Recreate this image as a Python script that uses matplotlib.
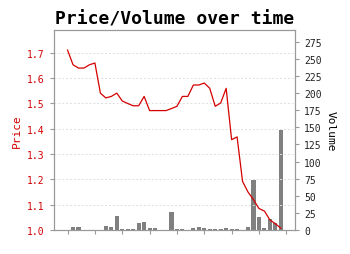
import matplotlib
matplotlib.use("Agg")
import matplotlib.pyplot as plt

# day index, closing price and traded volume
days = list(range(40))
price = [1.711, 1.653, 1.640, 1.640, 1.653, 1.660, 1.541, 1.522, 1.528, 1.541,
         1.510, 1.500, 1.491, 1.491, 1.528, 1.472, 1.472, 1.472, 1.472, 1.480,
         1.489, 1.528, 1.528, 1.573, 1.573, 1.581, 1.560, 1.489, 1.502, 1.560,
         1.357, 1.368, 1.192, 1.150, 1.120, 1.085, 1.075, 1.040, 1.025, 1.007]
volume = [0, 5, 5, 0, 0, 0, 0, 6, 4.5, 20,
          2, 1, 1.5, 10, 11, 2.5, 2.5, 0, 0, 26,
          1.5, 1.5, 0.5, 3, 4, 2.5, 1.5, 1.5, 1.5, 2.5,
          1.5, 1, 0, 4, 73, 19.5, 2.5, 15.5, 10, 146]
price_ticks = [1.0, 1.1, 1.2, 1.3, 1.4, 1.5, 1.6, 1.7]
volume_ticks = list(range(0, 276, 25))

plt.rcParams['font.family'] = 'DejaVu Sans Mono'
red = '#d40000'
edge = '#999999'

fig = plt.figure(figsize=(3.5, 2.55), dpi=100)
ax = fig.add_axes([0.154, 0.094, 0.689, 0.784])
ax2 = ax.twinx()

# volume bars on the right axis, drawn behind the price line
ax2.bar(days, volume, width=0.75, color='#808080', zorder=1)
ax2.set_ylim(0, 292)
ax2.set_yticks(volume_ticks)
ax2.tick_params(axis='y', labelsize=7, length=3, color=edge, labelcolor='#222222')
ax2.set_ylabel('Volume', fontsize=8, rotation=270, labelpad=10)

ax.set_zorder(ax2.get_zorder() + 1)
ax.patch.set_visible(False)
ax.plot(days, price, color=red, linewidth=0.9)
ax.set_ylim(1.0, 1.79)
ax.set_xlim(-2.5, 41.6)
ax.set_yticks(price_ticks)
ax.set_yticklabels(['%.1f' % t for t in price_ticks])
ax.tick_params(axis='y', labelsize=7, length=3, color=edge, labelcolor=red)
ax.set_ylabel('Price', fontsize=8, color=red)
ax.set_xticks(range(0, 41, 5))
ax.set_xticklabels([])
ax.tick_params(axis='x', length=3, color=edge)
ax.yaxis.grid(True, linestyle=(0, (2, 2)), color='#dddddd', linewidth=0.7)

for a in (ax, ax2):
    for s in a.spines.values():
        s.set_color(edge)

ax.set_title('Price/Volume over time', fontsize=13, fontweight='bold', pad=5)

fig.savefig('out.png', dpi=100)
